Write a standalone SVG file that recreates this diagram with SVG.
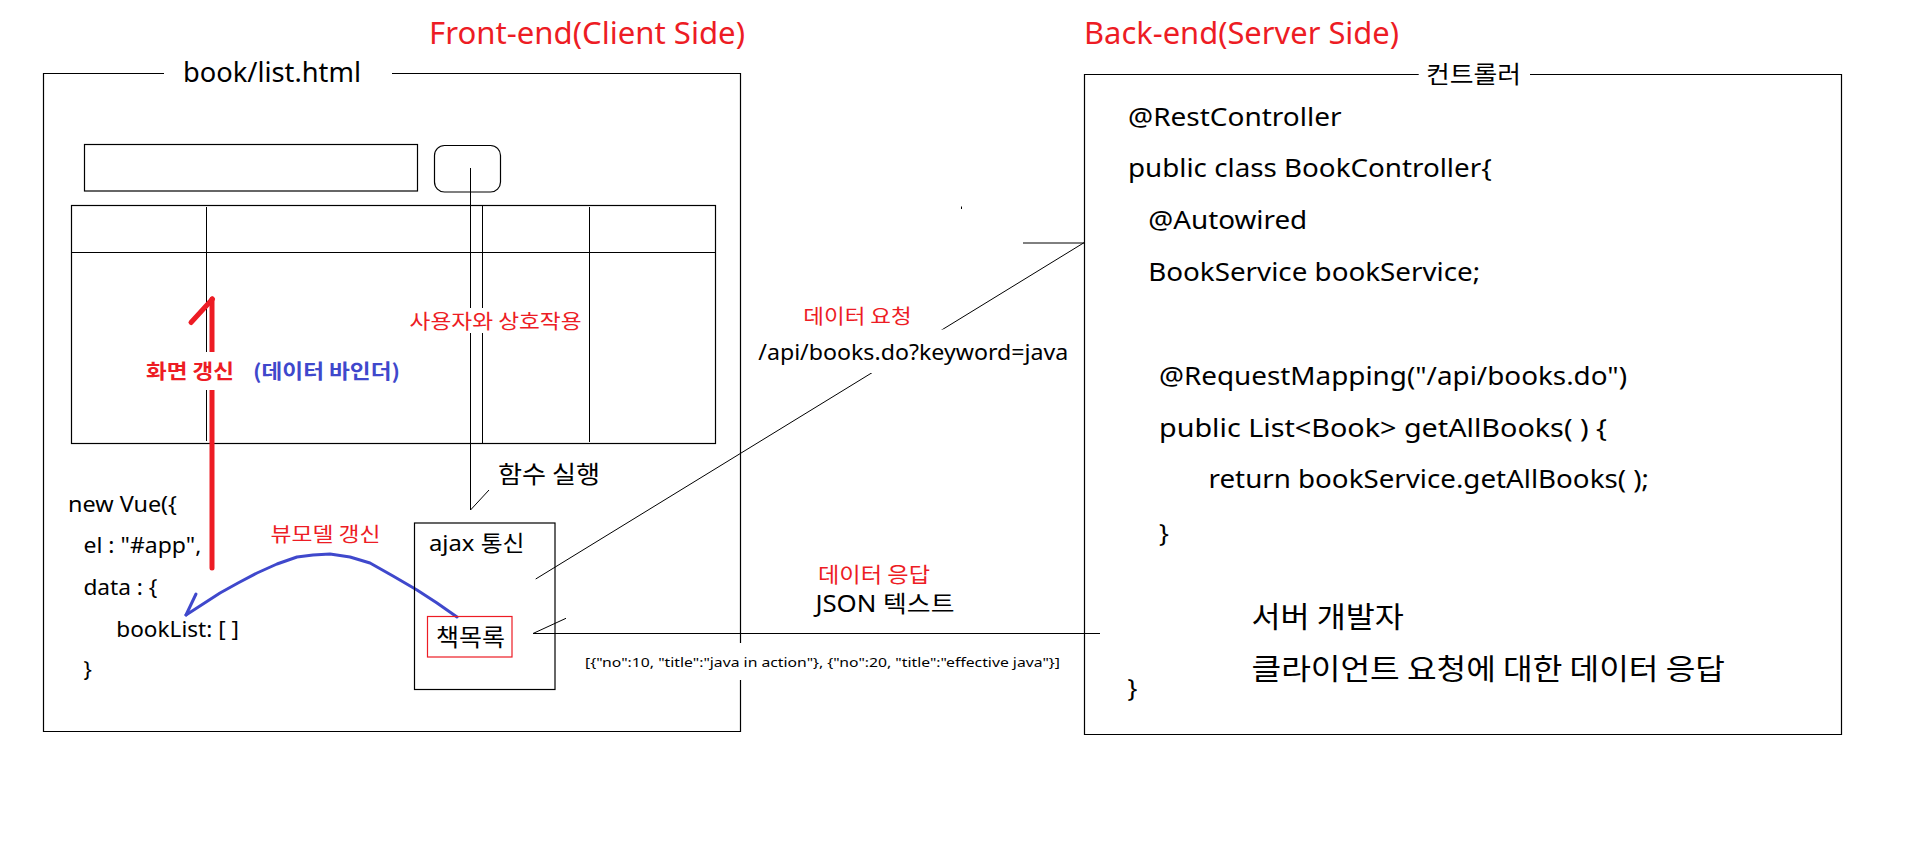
<svg xmlns="http://www.w3.org/2000/svg" width="1905" height="861" viewBox="0 0 1905 861">
<style>
  text { font-family: "Noto Sans", "Noto Sans CJK KR", sans-serif; fill: #000; }
  .ko { font-family: "Noto Sans CJK KR", sans-serif; }
  .red { fill: #ED1C24; }
  .blue { fill: #3F48CC; }
  .b { font-weight: bold; }
  .ln { stroke: #000; stroke-width: 1.2; fill: none; }
  .thin { stroke: #000; stroke-width: 1; fill: none; }
  .bg { fill: #fff; stroke: none; }
  .code { font-size: 26px; }
  .vue { font-size: 22px; }
</style>
<rect x="0" y="0" width="1905" height="861" fill="#fff"/>

<g id="front-end-title">
  <text class="red" x="429" y="43.5" font-size="30" textLength="316" lengthAdjust="spacingAndGlyphs">Front-end(Client Side)</text>
</g>
<g id="back-end-title">
  <text class="red" x="1084" y="43.5" font-size="30" textLength="315" lengthAdjust="spacingAndGlyphs">Back-end(Server Side)</text>
</g>

<g id="page-book-list">
  <line class="ln" x1="43" y1="73.5" x2="164" y2="73.5"/>
  <line class="ln" x1="392" y1="73.5" x2="741" y2="73.5"/>
  <line class="ln" x1="43.5" y1="73" x2="43.5" y2="732"/>
  <line class="ln" x1="43" y1="731.5" x2="741" y2="731.5"/>
  <line class="ln" x1="740.5" y1="73" x2="740.5" y2="732"/>
  <text x="183" y="82" font-size="27" textLength="178" lengthAdjust="spacingAndGlyphs">book/list.html</text>
</g>

<g id="search-input">
  <rect class="ln" x="84.5" y="144.5" width="333" height="46.5"/>
</g>
<g id="search-button">
  <rect class="ln" x="434.5" y="145.5" width="66" height="46.5" rx="10" ry="10"/>
</g>

<g id="table">
  <rect class="ln" x="71.5" y="205.5" width="644" height="238"/>
  <line class="ln" x1="71" y1="252.5" x2="716" y2="252.5"/>
  <line class="thin" x1="206.5" y1="207" x2="206.5" y2="441"/>
  <line class="thin" x1="482.5" y1="205" x2="482.5" y2="443"/>
  <line class="thin" x1="589.5" y1="207" x2="589.5" y2="442"/>
</g>

<g id="connectors">
  <!-- button to function call -->
  <line class="thin" x1="470.5" y1="168" x2="470.5" y2="510"/>
  <line class="thin" x1="470.5" y1="510" x2="489" y2="490"/>
  <!-- red screen refresh arrow -->
  <line x1="212" y1="299" x2="212" y2="568" stroke="#ED1C24" stroke-width="5" stroke-linecap="round"/>
  <line x1="212.5" y1="299" x2="191" y2="322.5" stroke="#ED1C24" stroke-width="5" stroke-linecap="round"/>
  <!-- blue viewmodel update arrow -->
  <path d="M457 617 L437 603 L417 590 L393 576 L370 563 L350 557 L330 554 L313 555 L297 557 L277 564 L257 573 L238 583 L220 593 L203 604 L186 615" fill="none" stroke="#3F48CC" stroke-width="3" stroke-linejoin="round" stroke-linecap="round"/>
  <line x1="186" y1="615" x2="196" y2="594" stroke="#3F48CC" stroke-width="3" stroke-linecap="round"/>
  <!-- data request -->
  <line class="thin" x1="535.7" y1="579" x2="1084.3" y2="242.5"/>
  <line class="thin" x1="1023" y1="243" x2="1084" y2="243"/>
  <!-- data response -->
  <line class="ln" x1="533" y1="633.5" x2="1100" y2="633.5"/>
  <line class="thin" x1="533" y1="633.5" x2="566" y2="618.3"/>
  <line class="thin" x1="961.5" y1="206.5" x2="961.5" y2="209"/>
</g>

<g id="label-refresh">
  <rect class="bg" x="140" y="352" width="265" height="38"/>
  <text class="ko red b" x="146" y="378.6" font-size="20" textLength="88" lengthAdjust="spacingAndGlyphs">화면 갱신</text>
  <text class="ko blue b" x="253" y="378.6" font-size="20" textLength="147" lengthAdjust="spacingAndGlyphs">(데이터 바인더)</text>
</g>

<g id="label-interaction">
  <rect class="bg" x="405" y="308" width="181" height="25"/>
  <text class="ko red" x="409.6" y="328.6" font-size="20" textLength="172" lengthAdjust="spacingAndGlyphs">사용자와 상호작용</text>
</g>

<g id="label-function">
  <text class="ko" x="498" y="483" font-size="24" textLength="102" lengthAdjust="spacingAndGlyphs">함수 실행</text>
</g>

<g id="vue-code">
  <text class="vue" x="68" y="511.5" textLength="109" lengthAdjust="spacingAndGlyphs">new Vue({</text>
  <text class="vue" x="83.4" y="552.7" textLength="118" lengthAdjust="spacingAndGlyphs">el : "#app",</text>
  <text class="vue" x="83.4" y="595" textLength="74" lengthAdjust="spacingAndGlyphs">data : {</text>
  <text class="vue" x="116.3" y="636.7" textLength="122.6" lengthAdjust="spacingAndGlyphs">bookList: [ ]</text>
  <text class="vue" x="83.4" y="677">}</text>
</g>

<g id="label-viewmodel">
  <text class="ko red" x="270.5" y="541.6" font-size="20" textLength="110" lengthAdjust="spacingAndGlyphs">뷰모델 갱신</text>
</g>

<g id="ajax">
  <rect class="ln" x="414.5" y="523" width="140.5" height="166.5"/>
  <text x="429" y="550.5" font-size="22" textLength="95.5" lengthAdjust="spacingAndGlyphs">ajax 통신</text>
</g>

<g id="book-list">
  <rect x="427.5" y="616.5" width="84.5" height="40.5" fill="none" stroke="#ED1C24" stroke-width="1.2"/>
  <text class="ko" x="436" y="646.3" font-size="24" textLength="69" lengthAdjust="spacingAndGlyphs">책목록</text>
</g>

<g id="label-request">
  <text class="ko red" x="803.3" y="323.6" font-size="20" textLength="108.4" lengthAdjust="spacingAndGlyphs">데이터 요청</text>
  <rect class="bg" x="755" y="329.5" width="317" height="43.5"/>
  <text x="758.3" y="360" font-size="22" textLength="310" lengthAdjust="spacingAndGlyphs">/api/books.do?keyword=java</text>
</g>

<g id="label-response">
  <text class="ko red" x="818" y="581.9" font-size="21" textLength="112" lengthAdjust="spacingAndGlyphs">데이터 응답</text>
  <text x="815.4" y="611.5" font-size="23" textLength="139" lengthAdjust="spacingAndGlyphs">JSON 텍스트</text>
  <rect class="bg" x="583" y="643" width="479" height="37"/>
  <text x="585" y="667" font-size="13" textLength="475" lengthAdjust="spacingAndGlyphs">[{"no":10, "title":"java in action"}, {"no":20, "title":"effective java"}]</text>
</g>

<g id="controller">
  <line class="ln" x1="1084" y1="74.5" x2="1418.7" y2="74.5"/>
  <line class="ln" x1="1530" y1="74.5" x2="1841.5" y2="74.5"/>
  <line class="ln" x1="1084.5" y1="74" x2="1084.5" y2="735"/>
  <line class="ln" x1="1841.5" y1="74" x2="1841.5" y2="735"/>
  <line class="ln" x1="1084" y1="734.5" x2="1842" y2="734.5"/>
  <text class="ko" x="1426" y="83.3" font-size="24" textLength="95" lengthAdjust="spacingAndGlyphs">컨트롤러</text>
  <text class="code" x="1128" y="126" textLength="213.5" lengthAdjust="spacingAndGlyphs">@RestController</text>
  <text class="code" x="1128" y="177.3" textLength="363.7" lengthAdjust="spacingAndGlyphs">public class BookController{</text>
  <text class="code" x="1148.2" y="229.3" textLength="159" lengthAdjust="spacingAndGlyphs">@Autowired</text>
  <text class="code" x="1148.2" y="281" textLength="332" lengthAdjust="spacingAndGlyphs">BookService bookService;</text>
  <text class="code" x="1159" y="385" textLength="468" lengthAdjust="spacingAndGlyphs">@RequestMapping("/api/books.do")</text>
  <text class="code" x="1159" y="437.3" textLength="448" lengthAdjust="spacingAndGlyphs">public List&lt;Book&gt; getAllBooks( ) {</text>
  <text class="code" x="1208.6" y="488.3" textLength="440.4" lengthAdjust="spacingAndGlyphs">return bookService.getAllBooks( );</text>
  <text class="code" x="1159" y="541.5">}</text>
  <text class="ko" x="1251.5" y="628" font-size="29" textLength="152.4" lengthAdjust="spacingAndGlyphs">서버 개발자</text>
  <text class="ko" x="1251.5" y="679.7" font-size="29" textLength="473.5" lengthAdjust="spacingAndGlyphs">클라이언트 요청에 대한 데이터 응답</text>
  <text class="code" x="1127.4" y="696.5">}</text>
</g>
</svg>
